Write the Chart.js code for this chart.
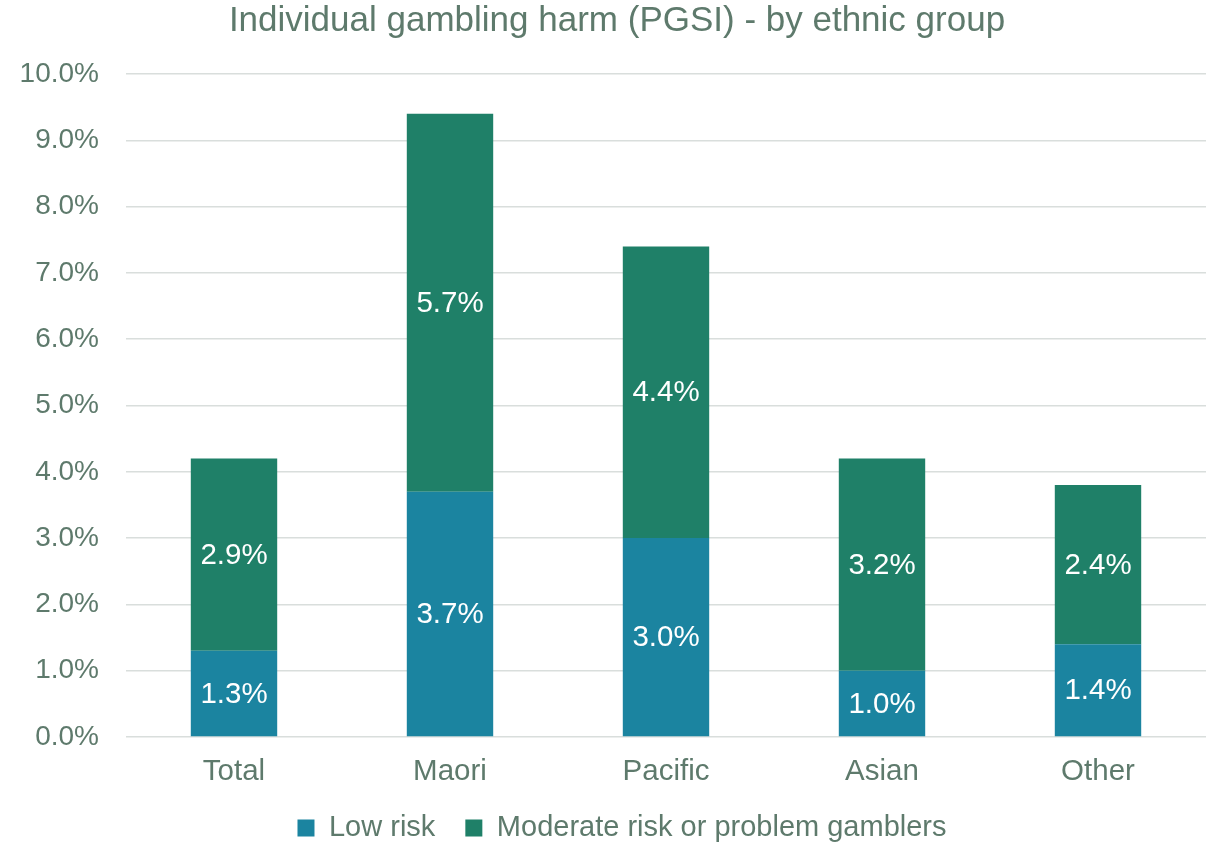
<!DOCTYPE html>
<html><head><meta charset="utf-8">
<script src="https://cdn.jsdelivr.net/npm/chart.js@4"></script>
<style>html,body{margin:0;padding:0;background:#fff}#c{display:block}</style>
</head><body>
<canvas id="c" width="1216" height="845"></canvas>
<script>
const categories = ["Total", "Maori", "Pacific", "Asian", "Other"];
const lowRisk = [1.3, 3.7, 3.0, 1.0, 1.4];
const moderateRisk = [2.9, 5.7, 4.4, 3.2, 2.4];
const seriesNames = ["Low risk", "Moderate risk or problem gamblers"];
const titleText = "Individual gambling harm (PGSI) - by ethnic group";

const textColor = "#5E7A6C";
const fontFamily = "'Liberation Sans', Arial, sans-serif";

const labelPlugin = {
  id: 'segLabels',
  afterLayout(chart) {
    if (chart.titleBlock) chart.titleBlock.left += 28;
    if (chart.legend) chart.legend.left += 38;
  },
  afterDatasetsDraw(chart) {
    const ctx = chart.ctx;
    ctx.save();
    ctx.fillStyle = '#ffffff';
    ctx.font = "29.5px " + fontFamily;
    ctx.textAlign = 'center';
    ctx.textBaseline = 'middle';
    chart.data.datasets.forEach((ds, i) => {
      const meta = chart.getDatasetMeta(i);
      meta.data.forEach((bar, j) => {
        const y = (bar.y + bar.base) / 2;
        ctx.fillText(ds.data[j].toFixed(1) + '%', bar.x, y + 1);
      });
    });
    ctx.restore();
  }
};

new Chart(document.getElementById('c'), {
  type: 'bar',
  data: {
    labels: categories,
    datasets: [
      { label: seriesNames[0], data: lowRisk, backgroundColor: '#1B84A0' },
      { label: seriesNames[1], data: moderateRisk, backgroundColor: '#1F8068' }
    ]
  },
  options: {
    responsive: false,
    animation: false,
    layout: { padding: { left: 0, right: 10, top: 0, bottom: -7.5 } },
    datasets: { bar: { categoryPercentage: 0.8, barPercentage: 0.5 } },
    plugins: {
      title: {
        display: true, text: titleText, color: textColor,
        font: { family: fontFamily, size: 35, weight: 'normal' },
        padding: { top: 0, bottom: 32 }
      },
      legend: {
        position: 'bottom',
        labels: {
          color: textColor, font: { family: fontFamily, size: 29 },
          boxWidth: 17, boxHeight: 17, padding: 30
        }
      },
      tooltip: { enabled: false }
    },
    scales: {
      x: {
        stacked: true,
        afterFit: s => { s.height = 46.5; },
        grid: { display: false },
        border: { display: false },
        ticks: { color: textColor, font: { family: fontFamily, size: 29.5 }, padding: 9 }
      },
      y: {
        stacked: true, min: 0, max: 10,
        afterFit: s => { s.width = 126; },
        grid: { color: '#D9DEDC', lineWidth: 1.5, drawTicks: false },
        border: { display: false },
        ticks: {
          stepSize: 1, color: textColor, font: { family: fontFamily, size: 28 }, padding: 27,
          callback: v => v.toFixed(1) + '%'
        }
      }
    }
  },
  plugins: [labelPlugin]
});
</script>
</body></html>
